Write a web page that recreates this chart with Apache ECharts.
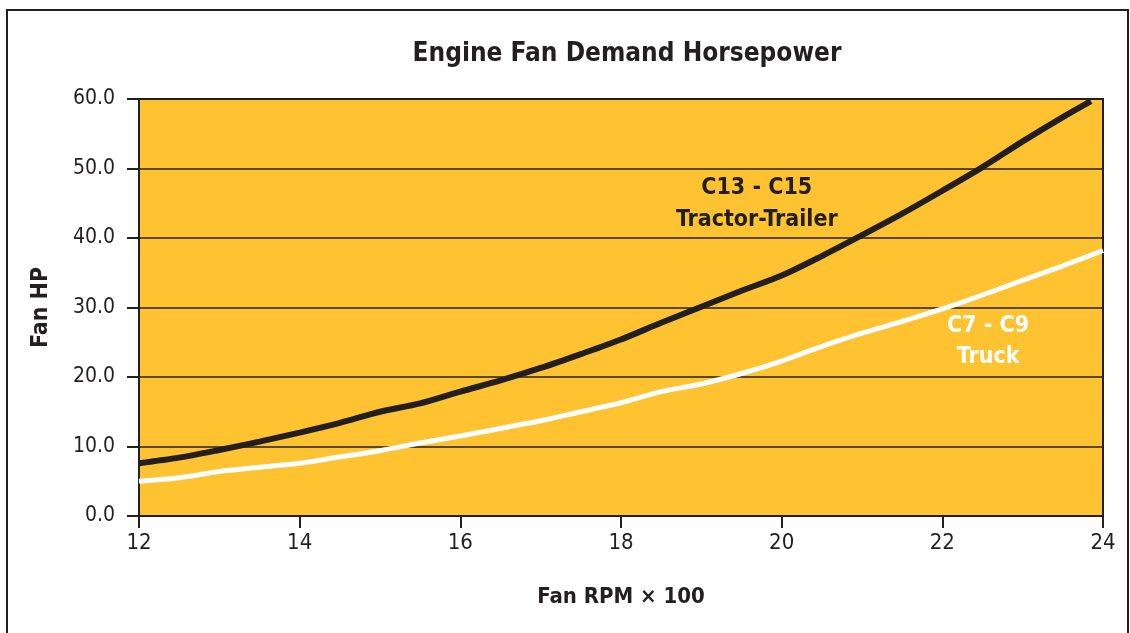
<!DOCTYPE html>
<html>
<head>
<meta charset="utf-8">
<script src="https://cdn.jsdelivr.net/npm/echarts@6/dist/echarts.min.js"></script>
<style>
html,body{margin:0;padding:0;background:#fff;}
#chart{width:1130px;height:633px;}
</style>
</head>
<body>
<div id="chart"></div>
<script>
// ---- data ----
const rpm = [12.0,12.5,13.0,13.5,14.0,14.5,15.0,15.5,16.0,16.5,17.0,17.5,18.0,18.5,19.0,19.5,20.0,20.5,21.0,21.5,22.0,22.5,23.0,23.5,23.85];
const tractorHP = [7.6,8.4,9.5,10.7,12.0,13.4,15.0,16.2,17.9,19.5,21.3,23.3,25.4,27.8,30.1,32.4,34.6,37.4,40.4,43.5,46.8,50.2,53.9,57.4,59.7];
const rpmTruck = [12.0,12.5,13.0,13.5,14.0,14.5,15.0,15.5,16.0,16.5,17.0,17.5,18.0,18.5,19.0,19.5,20.0,20.5,21.0,21.5,22.0,22.5,23.0,23.5,24.0];
const truckHP = [5.0,5.5,6.4,7.0,7.6,8.5,9.4,10.5,11.5,12.6,13.7,15.0,16.3,17.9,19.0,20.5,22.3,24.4,26.3,28.0,29.8,31.8,33.9,36.0,38.2];
const xTicks = [12,14,16,18,20,22,24];
const titleText = 'Engine Fan Demand Horsepower';
const xName = 'Fan RPM \u00D7 100';
const yName = 'Fan HP';
const tractorLabel = ['C13 - C15','Tractor-Trailer'];
const truckLabel = ['C7 - C9','Truck'];
const tractorLabelPos = [19.69, 44.9];
const truckLabelPos = [22.57, 25.1];

const FONT = '"Liberation Sans Narrow","DejaVu Sans Condensed","Roboto Condensed",Arial,sans-serif';
const INK = '#231f20';

const chart = echarts.init(document.getElementById('chart'), null, {renderer:'canvas'});
chart.setOption({
  animation:false,
  backgroundColor:'#ffffff',
  title:{
    text:titleText, left:622, top:36, textAlign:'center',
    textStyle:{fontFamily:FONT, fontWeight:'bold', fontSize:26, color:INK}
  },
  graphic:[{
    type:'rect', silent:true, z:-1,
    shape:{x:7,y:10,width:1121,height:640},
    style:{fill:'none', stroke:INK, lineWidth:2}
  }],
  grid:{
    left:139, top:99, width:964, height:417,
    show:true, backgroundColor:'#FFC331', borderColor:INK, borderWidth:2
  },
  xAxis:{
    type:'value', min:12, max:24, interval:2,
    name:xName, nameLocation:'middle', nameGap:70,
    nameTextStyle:{fontFamily:FONT, fontWeight:'bold', fontSize:22, color:INK},
    axisLine:{show:true, lineStyle:{color:INK, width:2}},
    axisTick:{show:true, length:12, lineStyle:{color:INK, width:2}},
    axisLabel:{margin:16, fontFamily:FONT, fontSize:22, color:INK,
      formatter:v=>String(v)},
    splitLine:{show:false}
  },
  yAxis:{
    type:'value', min:0, max:60, interval:10,
    name:yName, nameLocation:'middle', nameGap:86, nameRotate:90,
    nameTextStyle:{fontFamily:FONT, fontWeight:'bold', fontSize:23, color:INK},
    axisLine:{show:true, lineStyle:{color:INK, width:2}},
    axisTick:{show:true, length:12, lineStyle:{color:INK, width:2}},
    axisLabel:{margin:24, fontFamily:FONT, fontSize:21, color:INK,
      formatter:v=>v.toFixed(1)},
    splitLine:{show:true, lineStyle:{color:INK, width:1.5}}
  },
  series:[
    {
      name:'C7 - C9 Truck', type:'line', symbol:'none', smooth:0.3,
      data: rpmTruck.map((x,i)=>[x, truckHP[i]]),
      lineStyle:{color:'#ffffff', width:5},
      z:3,
      markPoint:{
        symbol:'circle', symbolSize:0, silent:true,
        data:[{coord:truckLabelPos, value:truckLabel.join('\n')}],
        label:{show:true, position:'inside', formatter:truckLabel.join('\n'),
          fontFamily:FONT, fontWeight:'bold', fontSize:23, lineHeight:31, color:'#ffffff', align:'center'}
      }
    },
    {
      name:'C13 - C15 Tractor-Trailer', type:'line', symbol:'none', smooth:0.3,
      data: rpm.map((x,i)=>[x, tractorHP[i]]),
      lineStyle:{color:INK, width:6},
      z:4,
      markPoint:{
        symbol:'circle', symbolSize:0, silent:true,
        data:[{coord:tractorLabelPos, value:tractorLabel.join('\n')}],
        label:{show:true, position:'inside', formatter:tractorLabel.join('\n'),
          fontFamily:FONT, fontWeight:'bold', fontSize:23, lineHeight:32, color:INK, align:'center'}
      }
    }
  ]
});
</script>
</body>
</html>
